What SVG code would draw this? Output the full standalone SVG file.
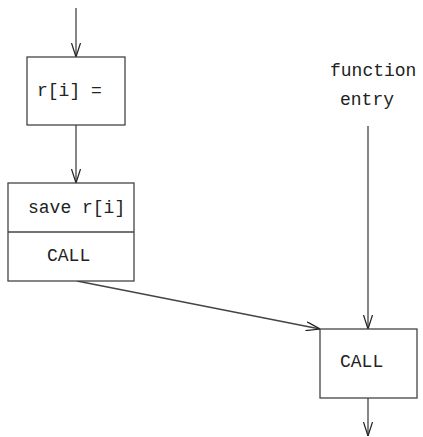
<svg xmlns="http://www.w3.org/2000/svg" width="423" height="437" viewBox="0 0 423 437">
<style>
.box{fill:#fff;stroke:#444;stroke-width:1.3}
.ln{fill:none;stroke:#444;stroke-width:1.3}
.t{font-family:"Liberation Mono","Courier New",monospace;font-size:18px;fill:#222}
</style>
<defs>
<marker id="ah" viewBox="0 0 14 10" refX="14" refY="5" markerWidth="14" markerHeight="10" markerUnits="userSpaceOnUse" orient="auto">
<path d="M0,0.5 L14,5 L0,9.5" fill="none" stroke="#222" stroke-width="1.2"/>
</marker>
</defs>
<g id="connectors">
<line class="ln" x1="76" y1="8" x2="76" y2="57" marker-end="url(#ah)"/>
<line class="ln" x1="76" y1="125" x2="76" y2="183" marker-end="url(#ah)"/>
<line class="ln" x1="77" y1="281" x2="320" y2="329" marker-end="url(#ah)"/>
<line class="ln" x1="368" y1="126" x2="368" y2="329" marker-end="url(#ah)"/>
<line class="ln" x1="368" y1="398" x2="368" y2="436" marker-end="url(#ah)"/>
</g>
<g id="assign">
<rect class="box" x="27" y="57" width="98" height="68"/>
<text class="t" x="37" y="96">r[i] =</text>
</g>
<g id="save-call">
<rect class="box" x="8" y="183" width="126" height="98"/>
<line class="ln" x1="8" y1="232" x2="134" y2="232"/>
<text class="t" x="28" y="213">save r[i]</text>
<text class="t" x="47" y="261">CALL</text>
</g>
<g id="entry">
<text class="t" x="330" y="76">function</text>
<text class="t" x="340" y="105">entry</text>
</g>
<g id="call">
<rect class="box" x="320" y="329" width="97" height="69"/>
<text class="t" x="340" y="367">CALL</text>
</g>
</svg>
